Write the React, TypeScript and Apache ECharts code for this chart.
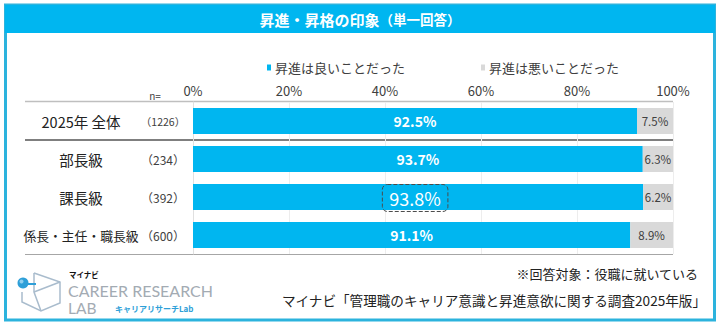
import React, { useEffect, useRef } from "react";
import * as echarts from "echarts";

const categories = ["2025年 全体", "部長級", "課長級", "係長・主任・職長級"];
const sampleSizes = ["（1226）", "（234）", "（392）", "（600）"];
const goodValues = [92.5, 93.7, 93.8, 91.1];
const badValues = [7.5, 6.3, 6.2, 8.9];
const seriesNames = ["昇進は良いことだった", "昇進は悪いことだった"];
const highlightIndex = 2;

const FONT = "'Noto Sans CJK JP', 'Noto Sans', sans-serif";
const BLUE = "#00B6F0";
const GREY = "#D9D9D9";

export default function App() {
  const ref = useRef<HTMLDivElement>(null);
  useEffect(() => {
    document.body.style.margin = "0";
    const chart = echarts.init(ref.current!, undefined, { renderer: "svg" });
    const gridLeft = 193;
    const gridRight = 673;
    const option: any = {
      animation: false,
      backgroundColor: "#fff",
      textStyle: { fontFamily: FONT },
      legend: {
        top: 56,
        left: 262,
        itemWidth: 4,
        itemHeight: 6,
        itemGap: 76,
        icon: "rect",
        textStyle: { fontSize: 13, color: "#404040", fontFamily: FONT, padding: [0, 0, 0, -1] },
        data: seriesNames,
      },
      grid: { left: gridLeft, right: 720 - gridRight, top: 102, height: 152 },
      xAxis: {
        type: "value",
        position: "top",
        min: 0,
        max: 100,
        interval: 20,
        axisLine: { show: false },
        axisTick: { show: false },
        axisLabel: { formatter: "{value}%", fontSize: 13, color: "#404040", margin: 5 },
        splitLine: { show: true, lineStyle: { color: "#EDEDED", width: 1 } },
      },
      yAxis: {
        type: "category",
        inverse: true,
        data: categories,
        axisLine: { show: true, lineStyle: { color: "#E0E0E0", width: 1 } },
        axisTick: { show: false },
        axisLabel: {
          margin: 8,
          formatter: (v: string, i: number) => {
            const nameStyle = i === 3 ? "nameS" : "name";
            const nStyle = i === 0 ? "nS" : "n";
            return `{${nameStyle}|${v}}{${nStyle}|${sampleSizes[i]}}`;
          },
          rich: {
            name: { width: 120, align: "center", fontSize: 14.5, color: "#222", fontFamily: FONT },
            nameS: { width: 120, align: "center", fontSize: 12.8, color: "#222", fontFamily: FONT },
            n: { width: 44, align: "center", fontSize: 12, color: "#404040", fontFamily: FONT },
            nS: { width: 44, align: "center", fontSize: 10.5, color: "#404040", fontFamily: FONT },
          },
        },
      },
      series: [
        {
          name: seriesNames[0],
          type: "bar",
          stack: "total",
          barWidth: 26,
          itemStyle: { color: BLUE },
          label: {
            show: true,
            position: "inside",
            formatter: "{c}%",
            color: "#fff",
            fontSize: 14,
            fontWeight: "bold",
            fontFamily: FONT,
          },
          data: goodValues.map((v, i) =>
            i === highlightIndex
              ? {
                  value: v,
                  label: {
                    fontSize: 18,
                    fontWeight: "normal",
                    borderColor: "#4a4a4a",
                    borderWidth: 1,
                    borderType: "dashed",
                    borderRadius: 5,
                    padding: [5, 7, 4, 7],
                    offset: [-3, 1],
                  },
                }
              : v
          ),
        },
        {
          name: seriesNames[1],
          type: "bar",
          stack: "total",
          barWidth: 26,
          itemStyle: { color: GREY },
          label: {
            show: true,
            position: "inside",
            formatter: "{c}%",
            color: "#404040",
            fontSize: 11.5,
            fontFamily: FONT,
          },
          data: badValues,
        },
      ],
      graphic: [
        // frame
        {
          type: "rect",
          shape: { x: 5.5, y: 5, width: 709, height: 315 },
          style: { fill: "none", stroke: "#2CB3DD", lineWidth: 3 },
          silent: true,
        },
        {
          type: "rect",
          shape: { x: 5, y: 5, width: 710, height: 28 },
          style: { fill: BLUE },
          silent: true,
        },
        {
          type: "text",
          x: 360,
          y: 19,
          style: {
            text: "{a|昇進・昇格の印象}{b|（単一回答）}",
            align: "center",
            verticalAlign: "middle",
            rich: {
              a: { fontSize: 15, fontWeight: "bold", fill: "#fff", fontFamily: FONT },
              b: { fontSize: 13.5, fontWeight: "bold", fill: "#fff", fontFamily: FONT },
            },
          },
        },
        // table lines
        {
          type: "line",
          shape: { x1: 25, y1: 101.5, x2: gridRight, y2: 101.5 },
          style: { stroke: "#BFBFBF", lineWidth: 1.5 },
          silent: true,
        },
        {
          type: "line",
          shape: { x1: 25, y1: 140, x2: gridRight, y2: 140 },
          style: { stroke: "#7F7F7F", lineWidth: 2 },
          silent: true,
        },
        {
          type: "line",
          shape: { x1: 25, y1: 254.5, x2: gridRight, y2: 254.5 },
          style: { stroke: "#A6A6A6", lineWidth: 1 },
          silent: true,
        },
        {
          type: "text",
          x: 155,
          y: 95,
          style: { text: "n=", fontSize: 10, fill: "#404040", align: "center", verticalAlign: "middle", fontFamily: FONT },
        },
        // footnotes
        {
          type: "text",
          x: 698,
          y: 273,
          style: { text: "※回答対象：役職に就いている", fontSize: 13, fill: "#222", align: "right", verticalAlign: "middle", fontFamily: FONT },
        },
        {
          type: "text",
          x: 706,
          y: 300,
          style: {
            text: "マイナビ「管理職のキャリア意識と昇進意欲に関する調査2025年版」",
            fontSize: 13.6,
            fill: "#222",
            align: "right",
            verticalAlign: "middle",
            fontFamily: FONT,
          },
        },
        // logo icon
        {
          type: "polyline",
          shape: { points: [[34, 273], [60, 282], [60, 303], [41, 311], [22, 302], [22, 292]] },
          style: { stroke: "#A9BCCD", lineWidth: 1.5, fill: "none" },
          silent: true,
        },
        {
          type: "polyline",
          shape: { points: [[34, 273], [34, 292], [41, 311]] },
          style: { stroke: "#A9BCCD", lineWidth: 1.5, fill: "none" },
          silent: true,
        },
        {
          type: "polyline",
          shape: { points: [[34, 292], [60, 282]] },
          style: { stroke: "#A9BCCD", lineWidth: 1.5, fill: "none" },
          silent: true,
        },
        {
          type: "line",
          shape: { x1: 24, y1: 284, x2: 36, y2: 284 },
          style: { stroke: "#2E9FD8", lineWidth: 2 },
          silent: true,
        },
        {
          type: "circle",
          shape: { cx: 23, cy: 283, r: 5.5 },
          style: { fill: "#2E9FD8" },
          silent: true,
        },
        {
          type: "circle",
          shape: { cx: 21.5, cy: 281.5, r: 2 },
          style: { fill: "#8FD0F0" },
          silent: true,
        },
        {
          type: "text",
          x: 69,
          y: 274.5,
          style: { text: "マイナビ", fontSize: 7.5, fontWeight: "bold", fill: "#111", verticalAlign: "middle", fontFamily: FONT },
        },
        {
          type: "text",
          x: 68,
          y: 290.5,
          style: { text: "CAREER RESEARCH", fontSize: 16, fill: "#A3ABB3", verticalAlign: "middle", fontFamily: "Lato, 'Noto Sans', sans-serif" },
        },
        {
          type: "text",
          x: 68,
          y: 308,
          style: { text: "LAB", fontSize: 15.5, fill: "#A3ABB3", verticalAlign: "middle", fontFamily: "Lato, 'Noto Sans', sans-serif" },
        },
        {
          type: "text",
          x: 115,
          y: 308,
          style: { text: "キャリアリサーチLab", fontSize: 8, fontWeight: "bold", fill: "#2E9FD8", verticalAlign: "middle", fontFamily: FONT },
        },
      ],
    };
    chart.setOption(option);
    return () => chart.dispose();
  }, []);
  return <div ref={ref} style={{ width: 720, height: 324 }} />;
}
